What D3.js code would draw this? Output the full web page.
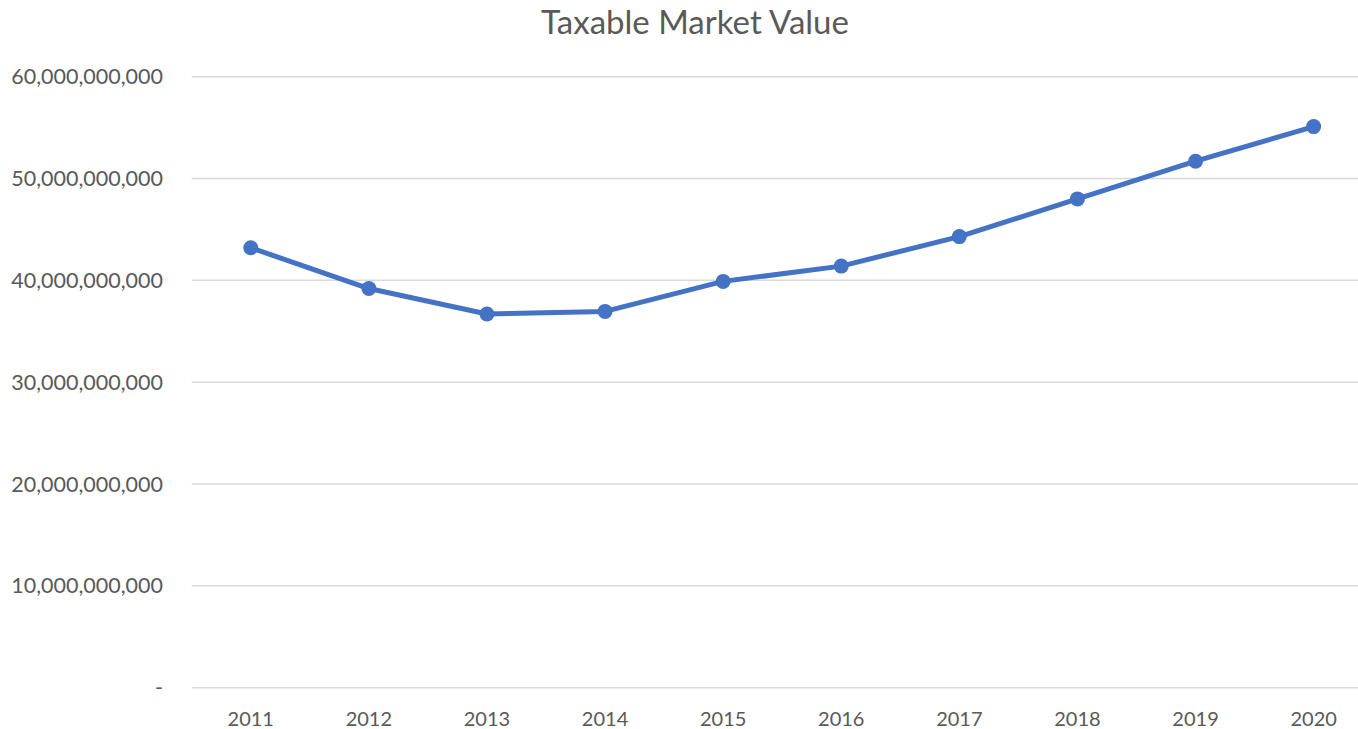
<!DOCTYPE html>
<html lang="en">
<head>
<meta charset="UTF-8">
<title>Taxable Market Value</title>
<script src="https://cdn.jsdelivr.net/npm/d3@7"></script>
<style>
    body { margin: 0; background: #fff; }
    text { font-family: Lato, "Open Sans", sans-serif; fill: #595959; }
</style>
</head>
<body>
<svg width="1358" height="729"></svg>
<script>
    const years = ["2011","2012","2013","2014","2015","2016","2017","2018","2019","2020"];
    const marketValue = [43.2e9, 39.2e9, 36.7e9, 36.95e9, 39.9e9, 41.4e9, 44.3e9, 48.0e9, 51.7e9, 55.1e9];
    const yTicks = [0, 10e9, 20e9, 30e9, 40e9, 50e9, 60e9];

    const svg = d3.select("svg");
    const plotLeft = 191.7, plotTop = 76.7, plotBottom = 687.7;
    const step = 118.1;

    const x = d3.scaleBand().domain(years).range([plotLeft, plotLeft + step * years.length]).padding(0);
    const y = d3.scaleLinear().domain([0, 60e9]).range([plotBottom, plotTop]);

    svg.append("text")
        .attr("x", 695).attr("y", 34)
        .attr("text-anchor", "middle")
        .style("font-size", "33px")
        .text("Taxable Market Value");

    // grid
    svg.append("g").selectAll("line")
        .data(yTicks)
        .join("line")
        .attr("x1", plotLeft).attr("x2", plotLeft + step * years.length)
        .attr("y1", d => y(d)).attr("y2", d => y(d))
        .attr("stroke", "#d9d9d9").attr("stroke-width", 1.5);

    const fmt = d3.format(",");
    svg.append("g").selectAll("text")
        .data(yTicks)
        .join("text")
        .attr("x", 163).attr("y", d => y(d) + 7.5)
        .attr("text-anchor", "end")
        .style("font-size", "21.5px")
        .text(d => d === 0 ? "-" : fmt(d));

    svg.append("g").selectAll("text")
        .data(years)
        .join("text")
        .attr("x", d => x(d) + x.bandwidth() / 2).attr("y", 726)
        .attr("text-anchor", "middle")
        .style("font-size", "20px")
        .text(d => d);

    const pts = years.map((yr, i) => [x(yr) + x.bandwidth() / 2, y(marketValue[i])]);

    svg.append("path")
        .attr("d", d3.line()(pts))
        .attr("fill", "none")
        .attr("stroke", "#4472c4")
        .attr("stroke-width", 5)
        .attr("stroke-linejoin", "round");

    svg.append("g").selectAll("circle")
        .data(pts)
        .join("circle")
        .attr("cx", d => d[0]).attr("cy", d => d[1])
        .attr("r", 7.5)
        .attr("fill", "#4472c4");
</script>
</body>
</html>
